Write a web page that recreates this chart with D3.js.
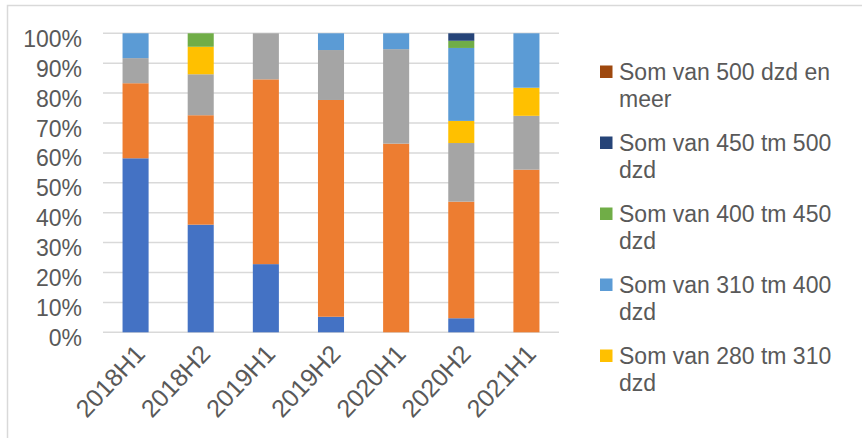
<!DOCTYPE html>
<html>
<head>
<meta charset="utf-8">
<script src="https://cdn.jsdelivr.net/npm/d3@7"></script>
<style>
  body { margin: 0; background: #fff; }
  svg { display: block; font-family: "Liberation Sans", Arial, sans-serif; }
</style>
</head>
<body>
<script>
var width = 862;
var height = 438;

// data (percent per half year)
var categories = ["2018H1", "2018H2", "2019H1", "2019H2", "2020H1", "2020H2", "2021H1"];
var seriesNames = [
    "Som van tot 200 dzd",
    "Som van 200 tm 250 dzd",
    "Som van 250 tm 280 dzd",
    "Som van 280 tm 310 dzd",
    "Som van 310 tm 400 dzd",
    "Som van 400 tm 450 dzd",
    "Som van 450 tm 500 dzd",
    "Som van 500 dzd en meer"
];
var seriesColors = ["#4472C4", "#ED7D31", "#A5A5A5", "#FFC000", "#5B9BD5", "#70AD47", "#264478", "#9E480E"];
var s200 = [58.2, 36.0, 22.8, 5.2, 0, 4.7, 0];
var s250 = [25.1, 36.6, 61.8, 72.5, 63.1, 39.0, 54.4];
var s280 = [8.4, 13.7, 15.4, 16.7, 31.6, 19.6, 18.0];
var s310 = [0, 9.2, 0, 0, 0, 7.4, 9.4];
var s400 = [8.3, 0, 0, 5.6, 5.3, 24.4, 18.2];
var s450 = [0, 4.5, 0, 0, 0, 2.4, 0];
var s500 = [0, 0, 0, 0, 0, 2.5, 0];
var s500plus = [0, 0, 0, 0, 0, 0, 0];
var seriesValues = [s200, s250, s280, s310, s400, s450, s500, s500plus];
var yTicks = [0, 10, 20, 30, 40, 50, 60, 70, 80, 90, 100];

var textColor = "#595959";
var gridColor = "#d9d9d9";
var fontSize = 23;

var svg = d3.select("body").append("svg")
    .attr("width", width)
    .attr("height", height);

// chart frame (runs off the picture on right and bottom)
svg.append("rect")
    .attr("x", 7.5)
    .attr("y", 5.5)
    .attr("width", 900)
    .attr("height", 500)
    .attr("fill", "#fff")
    .attr("stroke", gridColor)
    .attr("stroke-width", 1.5);

var x = d3.scaleBand()
    .domain(categories)
    .range([103, 559])
    .paddingInner(0.6)
    .paddingOuter(0.3);

var y = d3.scaleLinear()
    .domain([0, 100])
    .range([332.3, 33.3]);

// gridlines
svg.append("g").selectAll("line")
    .data(yTicks)
    .join("line")
    .attr("x1", 103)
    .attr("x2", 559)
    .attr("y1", function(d) { return y(d); })
    .attr("y2", function(d) { return y(d); })
    .attr("stroke", gridColor)
    .attr("stroke-width", 1.5);

// y labels
var yAxis = d3.axisLeft(y)
    .tickValues(yTicks)
    .tickSize(0)
    .tickPadding(0)
    .tickFormat(function(d) { return d + "%"; });

var yg = svg.append("g")
    .attr("transform", "translate(82,0)")
    .call(yAxis);
yg.select(".domain").remove();
yg.selectAll("text")
    .attr("fill", textColor)
    .attr("font-size", fontSize)
    .attr("font-family", "Liberation Sans, Arial, sans-serif")
    .attr("dy", 13);

// stacked bars
var rows = categories.map(function(c, i) {
    var r = { cat: c };
    seriesNames.forEach(function(n, k) { r[n] = seriesValues[k][i]; });
    return r;
});
var stacked = d3.stack().keys(seriesNames)(rows);

svg.append("g").selectAll("g")
    .data(stacked)
    .join("g")
    .attr("fill", function(d, k) { return seriesColors[k]; })
    .selectAll("rect")
    .data(function(d) { return d; })
    .join("rect")
    .attr("x", function(d) { return x(d.data.cat); })
    .attr("width", x.bandwidth())
    .attr("y", function(d) { return y(d[1]); })
    .attr("height", function(d) { return y(d[0]) - y(d[1]); });

// category labels, rotated
svg.append("g").selectAll("text")
    .data(categories)
    .join("text")
    .attr("transform", function(d) {
        return "translate(" + (x(d) + x.bandwidth() / 2 + 11) + ",355) rotate(-47)";
    })
    .attr("text-anchor", "end")
    .attr("font-size", 25)
    .attr("fill", textColor)
    .text(function(d) { return d; });

// legend: reverse order, only the entries that fit
var legendOrder = d3.range(seriesNames.length).reverse().slice(0, 5);
var legendMaxWidth = 232;

var legend = svg.append("g").selectAll("g")
    .data(legendOrder)
    .join("g")
    .attr("transform", function(k, i) { return "translate(600," + (72 + 71 * i) + ")"; });

legend.append("rect")
    .attr("x", 0)
    .attr("y", -6.5)
    .attr("width", 12.5)
    .attr("height", 12.5)
    .attr("fill", function(k) { return seriesColors[k]; });

legend.each(function(k) {
    var g = d3.select(this);
    var words = seriesNames[k].split(" ");
    var t = g.append("text")
        .attr("x", 19)
        .attr("y", 7.5)
        .attr("font-size", fontSize)
        .attr("fill", textColor);
    var line = [];
    var tspan = t.append("tspan").attr("x", 19).attr("dy", 0);
    words.forEach(function(w) {
        line.push(w);
        tspan.text(line.join(" "));
        if (tspan.node().getComputedTextLength() > legendMaxWidth && line.length > 1) {
            line.pop();
            tspan.text(line.join(" "));
            line = [w];
            tspan = t.append("tspan").attr("x", 19).attr("dy", 27).text(w);
        }
    });
});
</script>
</body>
</html>
